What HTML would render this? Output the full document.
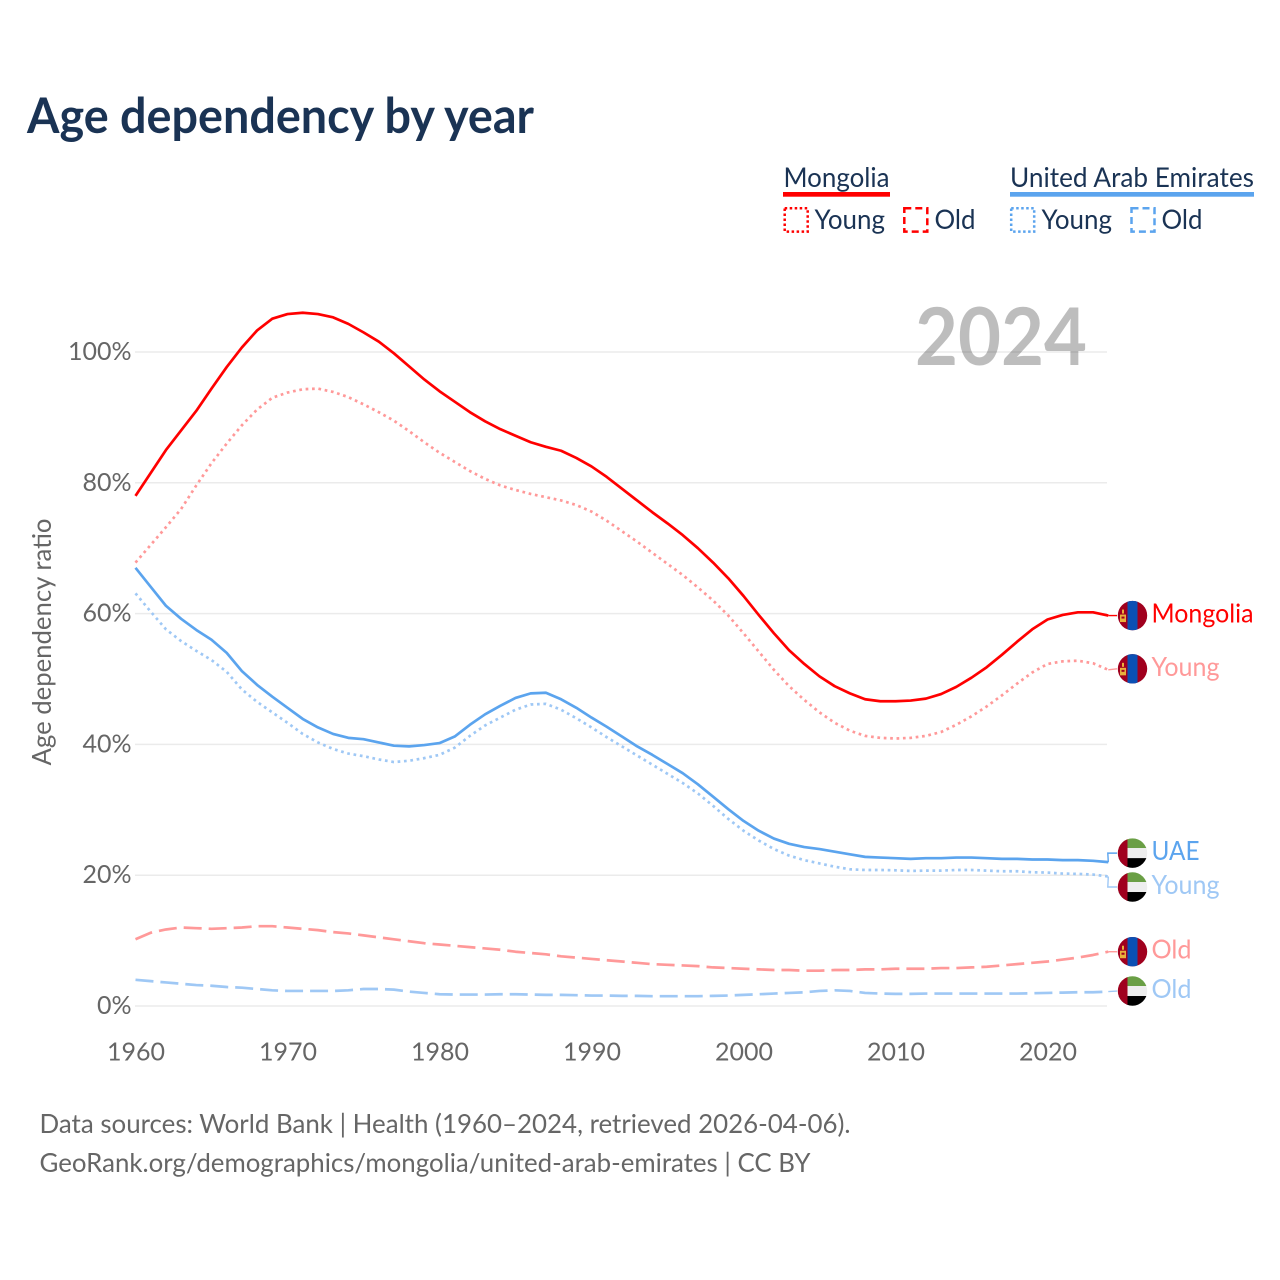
<!DOCTYPE html>
<html lang="en">
<head>
<meta charset="utf-8">
<title>Age dependency by year</title>
<style>
html,body{margin:0;padding:0;background:#fff;width:1280px;height:1280px;overflow:hidden}
svg{display:block}
text{font-family:"Lato","Carlito","Liberation Sans",sans-serif}
</style>
</head>
<body>
<svg id="chart" xmlns="http://www.w3.org/2000/svg" width="1280" height="1280" viewBox="0 0 1280 1280">
  <defs>
    <clipPath id="flag-clip"><circle cx="0" cy="0" r="14.7"></circle></clipPath>
  </defs>
  <rect x="0" y="0" width="1280" height="1280" fill="#fff"></rect>
  <text x="27" y="133" font-size="49" font-weight="700" fill="#1a3354" textLength="507" lengthAdjust="spacingAndGlyphs">Age dependency by year</text>

  <g fill="#1a3354" font-size="27">
    <text x="783.5" y="187" textLength="106" lengthAdjust="spacingAndGlyphs">Mongolia</text>
    <rect x="783" y="192" width="107" height="4.7" fill="#ff0000"></rect>
    <rect x="784.7" y="208.2" width="23" height="23.4" fill="none" stroke="#ff0000" stroke-width="2.5" stroke-dasharray="2.5 2.5"></rect>
    <text x="814.5" y="229" textLength="70.5" lengthAdjust="spacingAndGlyphs">Young</text>
    <rect x="904.3" y="208.2" width="23" height="23.4" fill="none" stroke="#ff0000" stroke-width="2.5" stroke-dasharray="7 4"></rect>
    <text x="934.5" y="229" textLength="41" lengthAdjust="spacingAndGlyphs">Old</text>

    <text x="1010" y="187" textLength="244" lengthAdjust="spacingAndGlyphs">United Arab Emirates</text>
    <rect x="1010" y="192" width="244" height="4.7" fill="#5ba4ee"></rect>
    <rect x="1011.2" y="208.2" width="23" height="23.4" fill="none" stroke="#5ba4ee" stroke-width="2.5" stroke-dasharray="2.5 2.5"></rect>
    <text x="1041.5" y="229" textLength="70.5" lengthAdjust="spacingAndGlyphs">Young</text>
    <rect x="1131.5" y="208.2" width="23" height="23.4" fill="none" stroke="#5ba4ee" stroke-width="2.5" stroke-dasharray="7 4"></rect>
    <text x="1161.5" y="229" textLength="41" lengthAdjust="spacingAndGlyphs">Old</text>
  </g>

  <text transform="translate(51 642) rotate(-90)" text-anchor="middle" font-size="26" fill="#666666" textLength="247" lengthAdjust="spacingAndGlyphs">Age dependency ratio</text>

  <g id="grid"></g>
  <text x="915" y="365" font-size="80" font-weight="700" fill="#000000" fill-opacity="0.26" textLength="172" lengthAdjust="spacingAndGlyphs">2024</text>
  <g id="yticks"></g>
  <g id="xticks"></g>
  <g id="series"></g>
  <g id="ends"></g>

  <text x="39.5" y="1133" font-size="26" fill="#666666" textLength="811" lengthAdjust="spacingAndGlyphs">Data sources: World Bank | Health (1960–2024, retrieved 2026-04-06).</text>
  <text x="39.5" y="1172" font-size="26" fill="#666666" textLength="771" lengthAdjust="spacingAndGlyphs">GeoRank.org/demographics/mongolia/united-arab-emirates | CC BY</text>
</svg>
<script>
const yTicks = [0, 20, 40, 60, 80, 100];
const xTicks = [1960, 1970, 1980, 1990, 2000, 2010, 2020];
const startYear = 1960;

const mongoliaTotal = [78.0,81.5,85.0,88.0,91.0,94.4,97.7,100.7,103.3,105.1,105.8,106.0,105.8,105.3,104.3,103.0,101.6,99.8,97.8,95.8,94.0,92.4,90.8,89.4,88.2,87.2,86.2,85.5,84.9,83.8,82.5,80.9,79.1,77.3,75.5,73.8,72.0,70.0,67.8,65.4,62.7,59.8,57.0,54.4,52.3,50.4,48.9,47.8,46.9,46.6,46.6,46.7,47.0,47.7,48.8,50.2,51.8,53.7,55.7,57.6,59.1,59.8,60.2,60.2,59.7];
const mongoliaYoung = [67.8,70.5,73.2,76.0,79.6,83.0,86.0,88.8,91.2,93.0,93.8,94.3,94.4,93.9,93.1,92.0,90.8,89.5,87.9,86.2,84.6,83.2,81.8,80.6,79.6,78.9,78.3,77.8,77.3,76.6,75.6,74.2,72.6,71.0,69.3,67.6,65.9,64.0,62.0,59.7,57.0,54.2,51.4,48.9,46.8,44.9,43.3,42.1,41.3,41.0,40.9,41.0,41.3,41.9,43.0,44.3,45.8,47.5,49.3,51.0,52.3,52.7,52.8,52.4,51.4];
const mongoliaOld = [10.2,11.2,11.7,12.0,11.9,11.8,11.9,12.0,12.2,12.2,12.0,11.8,11.6,11.3,11.1,10.8,10.5,10.2,9.9,9.6,9.4,9.2,9.0,8.8,8.6,8.3,8.1,7.9,7.6,7.4,7.2,7.0,6.8,6.6,6.4,6.3,6.2,6.1,5.9,5.8,5.7,5.6,5.5,5.5,5.4,5.4,5.5,5.5,5.6,5.6,5.7,5.7,5.7,5.8,5.8,5.9,6.0,6.2,6.4,6.6,6.8,7.1,7.4,7.8,8.3];
const uaeTotal = [67.0,64.1,61.2,59.2,57.5,56.0,54.0,51.2,49.1,47.3,45.6,43.9,42.6,41.6,41.0,40.8,40.3,39.8,39.7,39.9,40.2,41.2,43.0,44.6,45.9,47.1,47.8,47.9,46.9,45.6,44.1,42.7,41.2,39.7,38.4,37.0,35.6,33.9,32.0,30.1,28.3,26.8,25.6,24.8,24.3,24.0,23.6,23.2,22.8,22.7,22.6,22.5,22.6,22.6,22.7,22.7,22.6,22.5,22.5,22.4,22.4,22.3,22.3,22.2,22.0];
const uaeYoung = [63.1,60.3,57.6,55.8,54.3,52.9,51.1,48.4,46.5,44.9,43.3,41.6,40.3,39.3,38.6,38.2,37.7,37.3,37.5,37.9,38.4,39.5,41.3,42.9,44.1,45.3,46.1,46.2,45.3,44.0,42.6,41.1,39.7,38.3,36.9,35.5,34.1,32.5,30.6,28.6,26.8,25.3,24.0,23.0,22.3,21.8,21.3,20.9,20.8,20.8,20.75,20.65,20.7,20.7,20.8,20.8,20.7,20.6,20.6,20.45,20.4,20.25,20.2,20.1,19.8];
const uaeOld = [4.0,3.8,3.6,3.4,3.2,3.1,2.9,2.8,2.6,2.4,2.3,2.3,2.3,2.3,2.4,2.6,2.6,2.5,2.2,2.0,1.8,1.75,1.75,1.75,1.8,1.8,1.75,1.7,1.7,1.65,1.6,1.6,1.55,1.55,1.5,1.5,1.5,1.5,1.55,1.6,1.7,1.8,1.9,2.0,2.1,2.3,2.4,2.3,2.0,1.9,1.85,1.85,1.9,1.9,1.9,1.9,1.9,1.9,1.9,1.95,2.0,2.05,2.1,2.1,2.2];

const NS = 'http://www.w3.org/2000/svg';
function xScale(year) { return 135.5 + (year - 1960) * 15.2; }
function yScale(v) { return 1006 - v * 6.54; }
function make(tag, parent, props) {
  const node = document.createElementNS(NS, tag);
  for (const k in props) node.setAttribute(k, props[k]);
  parent.appendChild(node);
  return node;
}

const gridG = document.getElementById('grid');
const yG = document.getElementById('yticks');
const xG = document.getElementById('xticks');
const seriesG = document.getElementById('series');
const endsG = document.getElementById('ends');

yTicks.forEach(function (t) {
  const line = make('line', gridG, { x1: 135, x2: 1107, y1: yScale(t), y2: yScale(t), stroke: '#ebebeb', 'stroke-width': 1.5 });
  
  
  const label = make('text', yG, { x: 131.5, y: yScale(t) + 8, 'text-anchor': 'end', 'font-size': 25, fill: '#666666' });
  label.textContent = t + '%';
  
  
});

xTicks.forEach(function (t) {
  const label = make('text', xG, { x: xScale(t) + 0.5, y: 1060.7, 'text-anchor': 'middle', 'font-size': 25, fill: '#666666' });
  label.textContent = t;
  
  
});

function pathFor(values) {
  return values.map(function (v, i) {
    return (i ? 'L' : 'M') + xScale(startYear + i).toFixed(2) + ' ' + yScale(v).toFixed(2);
  }).join(' ');
}

function drawFlag(kind, cy) {
  const g = make('g', endsG, { transform: 'translate(1132.5 ' + cy.toFixed(2) + ')', 'clip-path': 'url(#flag-clip)' });
  
  
  if (kind === 'mongolia') {
    make('rect', g, { x: -15, y: -15, width: 30, height: 30, fill: '#a0001e' });
    make('rect', g, { x: -5, y: -15, width: 10, height: 30, fill: '#0b50b4' });
    make('rect', g, { x: -12.5, y: -1, width: 6, height: 7.5, fill: '#e9b13c' });
    make('rect', g, { x: -10.5, y: -6, width: 2, height: 4, fill: '#e9b13c' });
    make('rect', g, { x: -11, y: 1, width: 3, height: 2, fill: '#a0001e' });
  } else {
    make('rect', g, { x: -15, y: -15, width: 30, height: 10, fill: '#6a9f45' });
    make('rect', g, { x: -15, y: -5, width: 30, height: 10, fill: '#eeeeee' });
    make('rect', g, { x: -15, y: 5, width: 30, height: 10, fill: '#000000' });
    make('rect', g, { x: -15, y: -15, width: 10, height: 30, fill: '#a0001e' });
  }
}

function drawSeries(values, color, dash, width, kind, word, wordWidth, nudge, slug, step) {
  const line = make('path', seriesG, { d: pathFor(values), fill: 'none', stroke: color, 'stroke-width': width, 'stroke-dasharray': dash, 'stroke-linejoin': 'round' });
  
  

  const endX = xScale(startYear + values.length - 1);
  const endY = yScale(values[values.length - 1]);
  const cy = endY + nudge;
  const route = step
    ? 'M' + endX + ' ' + endY + ' L' + (endX - 0.5) + ' ' + cy + ' L1117 ' + cy
    : 'M' + endX + ' ' + endY + ' L1117 ' + cy;
  const link = make('path', seriesG, { d: route, fill: 'none', stroke: color, 'stroke-width': 1.4 });
  
  

  drawFlag(kind, cy);

  const label = make('text', endsG, { x: 1151.5, y: cy + 7, 'font-size': 26, fill: color, textLength: wordWidth, lengthAdjust: 'spacingAndGlyphs' });
  label.textContent = word;
  
  
}

drawSeries(mongoliaOld, '#ff9999', '18 7', 2.7, 'mongolia', 'Old', 40, 0, 'mongolia-old', false);
drawSeries(uaeOld, '#9fc8f5', '18 7', 2.7, 'uae', 'Old', 40, -0.6, 'uae-old', false);
drawSeries(mongoliaYoung, '#ff9999', '2.7 3.7', 2.7, 'mongolia', 'Young', 68, -1, 'mongolia-young', false);
drawSeries(uaeYoung, '#9fc8f5', '2.7 3.7', 2.7, 'uae', 'Young', 68, 10.5, 'uae-young', true);
drawSeries(uaeTotal, '#5ba4ee', 'none', 2.7, 'uae', 'UAE', 48, -9, 'uae-total', true);
drawSeries(mongoliaTotal, '#ff0000', 'none', 2.7, 'mongolia', 'Mongolia', 102, 0, 'mongolia-total', false);
</script>
</body>
</html>
